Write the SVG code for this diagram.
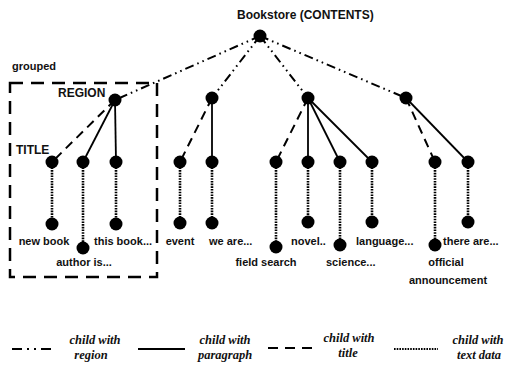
<svg xmlns="http://www.w3.org/2000/svg" width="506" height="372" viewBox="0 0 506 372">
<style>
.lbl{font-family:"Liberation Sans",Arial,sans-serif;font-weight:bold;font-size:11px;fill:#111}
.big{font-size:12px}
.leg{font-family:"Liberation Serif","Times New Roman",serif;font-style:italic;font-weight:bold;font-size:12.5px;fill:#111;text-anchor:middle}
.n{fill:#000}
.reg{stroke:#000;stroke-width:2;fill:none;stroke-dasharray:9 4 1.6 4 1.6 4}
.par{stroke:#000;stroke-width:1.8;fill:none}
.tit{stroke:#000;stroke-width:2;fill:none;stroke-dasharray:9 6}
.txt{stroke:#000;stroke-width:2.6;fill:none;stroke-dasharray:1.6 1.1}
.box{stroke:#000;stroke-width:2.5;fill:none;stroke-dasharray:13 8}
</style>
<rect width="506" height="372" fill="#fff"/>

<g id="group-box">
<rect class="box" x="10" y="83" width="147" height="194"/>
<text class="lbl" x="12" y="70">grouped</text>
</g>

<g id="connectors">
<line class="reg" x1="260" y1="36" x2="115" y2="100"/>
<line class="reg" x1="260" y1="36" x2="212" y2="98"/>
<line class="reg" x1="260" y1="36" x2="308" y2="98"/>
<line class="reg" x1="260" y1="36" x2="406" y2="98"/>
<line class="tit" x1="115" y1="100" x2="52" y2="162"/>
<line class="par" x1="115" y1="100" x2="83" y2="162"/>
<line class="par" x1="115" y1="100" x2="116" y2="162"/>
<line class="tit" x1="212" y1="98" x2="180" y2="162"/>
<line class="par" x1="212" y1="98" x2="212" y2="162"/>
<line class="tit" x1="308" y1="98" x2="276" y2="162"/>
<line class="par" x1="308" y1="98" x2="308" y2="162"/>
<line class="par" x1="308" y1="98" x2="340" y2="162"/>
<line class="par" x1="308" y1="98" x2="372" y2="162"/>
<line class="tit" x1="406" y1="98" x2="435" y2="162"/>
<line class="par" x1="406" y1="98" x2="468" y2="162"/>
<line class="txt" x1="52" y1="162" x2="52" y2="224"/>
<line class="txt" x1="83" y1="162" x2="83" y2="248"/>
<line class="txt" x1="116" y1="162" x2="116" y2="224"/>
<line class="txt" x1="180" y1="162" x2="180" y2="223"/>
<line class="txt" x1="212" y1="162" x2="212" y2="223"/>
<line class="txt" x1="276" y1="162" x2="276" y2="247"/>
<line class="txt" x1="308" y1="162" x2="308" y2="222"/>
<line class="txt" x1="340" y1="162" x2="340" y2="245"/>
<line class="txt" x1="372" y1="162" x2="372" y2="222"/>
<line class="txt" x1="435" y1="162" x2="435" y2="245"/>
<line class="txt" x1="468" y1="162" x2="468" y2="222"/>
</g>

<g id="root"><circle class="n" cx="260" cy="36" r="6.5"/><text class="lbl big" x="237" y="19">Bookstore (CONTENTS)</text></g>

<g id="region1"><circle class="n" cx="115" cy="100" r="6.5"/><text class="lbl big" x="58" y="97">REGION</text></g>
<g id="region2"><circle class="n" cx="212" cy="98" r="6.5"/></g>
<g id="region3"><circle class="n" cx="308" cy="98" r="6.5"/></g>
<g id="region4"><circle class="n" cx="406" cy="98" r="6.5"/></g>

<g id="title1"><circle class="n" cx="52" cy="162" r="6.5"/><text class="lbl big" x="16" y="154">TITLE</text></g>
<g id="para1a"><circle class="n" cx="83" cy="162" r="6.5"/></g>
<g id="para1b"><circle class="n" cx="116" cy="162" r="6.5"/></g>
<g id="title2"><circle class="n" cx="180" cy="162" r="6.5"/></g>
<g id="para2a"><circle class="n" cx="212" cy="162" r="6.5"/></g>
<g id="title3"><circle class="n" cx="276" cy="162" r="6.5"/></g>
<g id="para3a"><circle class="n" cx="308" cy="162" r="6.5"/></g>
<g id="para3b"><circle class="n" cx="340" cy="162" r="6.5"/></g>
<g id="para3c"><circle class="n" cx="372" cy="162" r="6.5"/></g>
<g id="title4"><circle class="n" cx="435" cy="162" r="6.5"/></g>
<g id="para4a"><circle class="n" cx="468" cy="162" r="6.5"/></g>

<g id="text-new-book"><circle class="n" cx="52" cy="224" r="6.5"/><text class="lbl" x="44" y="245" text-anchor="middle">new book</text></g>
<g id="text-author"><circle class="n" cx="83" cy="248" r="6.5"/><text class="lbl" x="84" y="266" text-anchor="middle">author is...</text></g>
<g id="text-this-book"><circle class="n" cx="116" cy="224" r="6.5"/><text class="lbl" x="94" y="245">this book...</text></g>
<g id="text-event"><circle class="n" cx="180" cy="223" r="6.5"/><text class="lbl" x="180" y="245" text-anchor="middle">event</text></g>
<g id="text-we-are"><circle class="n" cx="212" cy="223" r="6.5"/><text class="lbl" x="209" y="245">we are...</text></g>
<g id="text-field"><circle class="n" cx="276" cy="247" r="6.5"/><text class="lbl" x="266" y="266" text-anchor="middle">field search</text></g>
<g id="text-novel"><circle class="n" cx="308" cy="222" r="6.5"/><text class="lbl" x="291" y="245">novel..</text></g>
<g id="text-science"><circle class="n" cx="340" cy="245" r="6.5"/><text class="lbl" x="326" y="266">science...</text></g>
<g id="text-language"><circle class="n" cx="372" cy="222" r="6.5"/><text class="lbl" x="356" y="245">language...</text></g>
<g id="text-official"><circle class="n" cx="435" cy="245" r="6.5"/><text class="lbl" x="446" y="266" text-anchor="middle">official</text><text class="lbl" x="448" y="284" text-anchor="middle">announcement</text></g>
<g id="text-there-are"><circle class="n" cx="468" cy="222" r="6.5"/><text class="lbl" x="443" y="245">there are...</text></g>

<g id="legend">
<line class="reg" x1="12" y1="349" x2="56" y2="349" style="stroke-dasharray:10 5 2 5 2 5"/>
<text class="leg" x="95" y="344">child with</text><text class="leg" x="91" y="359">region</text>
<line class="par" x1="138" y1="349" x2="185" y2="349"/>
<text class="leg" x="225" y="344">child with</text><text class="leg" x="225" y="359">paragraph</text>
<line class="tit" x1="268" y1="348" x2="315" y2="348" style="stroke-dasharray:10 7"/>
<text class="leg" x="349" y="342">child with</text><text class="leg" x="348" y="357">title</text>
<line class="txt" x1="394" y1="349" x2="438" y2="349" style="stroke-width:1.8"/>
<text class="leg" x="478" y="344">child with</text><text class="leg" x="479" y="359">text data</text>
</g>
</svg>
